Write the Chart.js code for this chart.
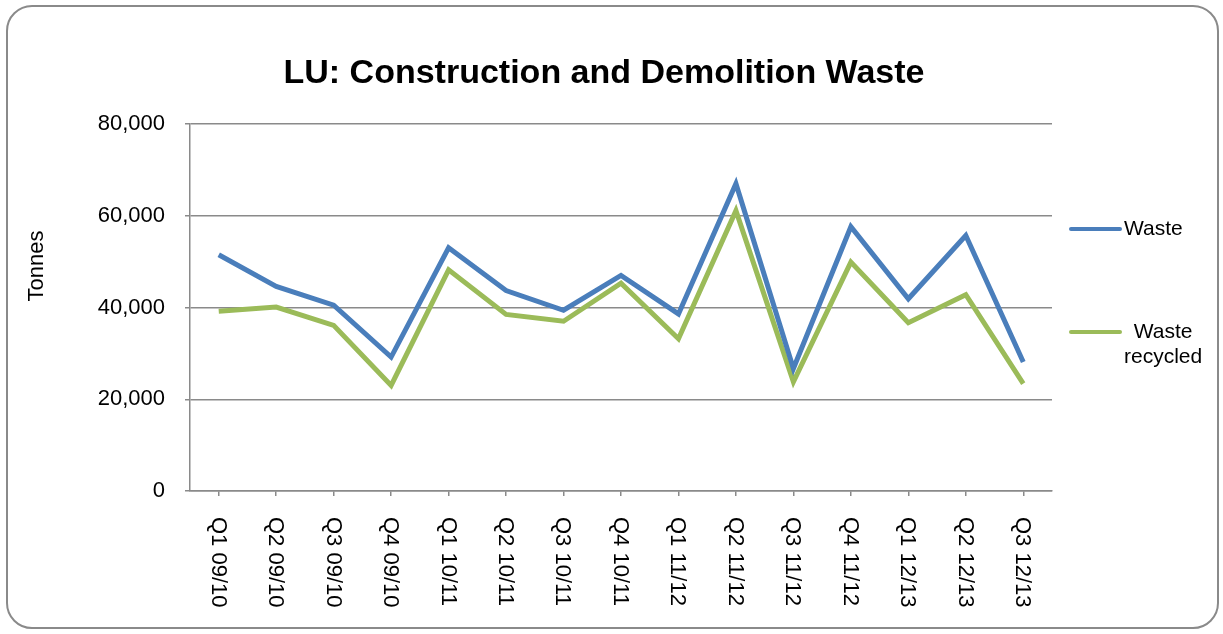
<!DOCTYPE html>
<html>
<head>
<meta charset="utf-8">
<script src="https://cdn.jsdelivr.net/npm/chart.js@4.4.1/dist/chart.umd.min.js"></script>
<style>
    body { margin: 0; background: #fff; }
    #wrap { position: relative; width: 1223px; height: 634px; }
    #frame {
        position: absolute; left: 6px; top: 5px; width: 1213px; height: 624px;
        border: 2px solid #8a8a8a; border-radius: 26px; box-sizing: border-box;
    }
    canvas { position: absolute; left: 0; top: 0; }
</style>
</head>
<body>
<div id="wrap">
    <div id="frame"></div>
    <canvas id="myChart" width="1223" height="634"></canvas>
</div>
<script>
const quarters = ['Q1 09/10', 'Q2 09/10', 'Q3 09/10', 'Q4 09/10',
    'Q1 10/11', 'Q2 10/11', 'Q3 10/11', 'Q4 10/11',
    'Q1 11/12', 'Q2 11/12', 'Q3 11/12', 'Q4 11/12',
    'Q1 12/13', 'Q2 12/13', 'Q3 12/13'];
const waste = [51500, 44600, 40500, 29200, 53000, 43700, 39400, 47000,
    38600, 67000, 26700, 57600, 41900, 55700, 28100];
const wasteRecycled = [39200, 40100, 36100, 23000, 48200, 38500, 37000, 45300,
    33200, 61100, 23800, 49900, 36700, 42800, 23400];
const yTicks = [0, 20000, 40000, 60000, 80000];

const chartTitle = 'LU: Construction and Demolition Waste';
const yTitle = 'Tonnes';
const font = '"Liberation Sans", Arial, sans-serif';

// title, rotated y title, clockwise x labels and the legend
const extras = {
    id: 'extras',
    afterDraw(chart) {
        const c = chart.ctx;
        const x = chart.scales.x;
        c.save();
        c.fillStyle = '#000';

        c.font = 'bold 34px ' + font;
        c.textAlign = 'center';
        c.textBaseline = 'alphabetic';
        c.fillText(chartTitle, 604, 83);

        c.save();
        c.font = '22px ' + font;
        c.translate(37, 266);
        c.rotate(-Math.PI / 2);
        c.textBaseline = 'middle';
        c.fillText(yTitle, 0, 0);
        c.restore();

        c.font = '22px ' + font;
        c.textAlign = 'left';
        c.textBaseline = 'middle';
        quarters.forEach((q, i) => {
            c.save();
            c.translate(x.getPixelForValue(i) - 1, 517);
            c.rotate(Math.PI / 2);
            c.fillText(q, 0, 0);
            c.restore();
        });

        const rows = [229, 332];
        c.font = '21px ' + font;
        chart.data.datasets.forEach((ds, i) => {
            const y = rows[i];
            c.strokeStyle = ds.borderColor;
            c.lineWidth = 4;
            c.lineCap = 'round';
            c.beginPath();
            c.moveTo(1071, y);
            c.lineTo(1120, y);
            c.stroke();
            // wrap into lines no wider than 90px
            const lines = [];
            ds.label.split(' ').forEach(w => {
                const last = lines[lines.length - 1];
                if (last && c.measureText(last + ' ' + w).width <= 90) lines[lines.length - 1] = last + ' ' + w;
                else lines.push(w);
            });
            const blockW = Math.max(...lines.map(l => c.measureText(l).width));
            c.textAlign = 'center';
            lines.forEach((l, j) => c.fillText(l, 1124 + blockW / 2, y + j * 25));
        });
        c.restore();
    }
};

const ctx = document.getElementById('myChart');

new Chart(ctx, {
    type: 'line',
    data: {
        labels: quarters,
        datasets: [{
            label: 'Waste',
            data: waste,
            borderColor: '#4a7ebb',
            borderWidth: 5,
            pointRadius: 0,
            tension: 0
        }, {
            label: 'Waste recycled',
            data: wasteRecycled,
            borderColor: '#9bbb59',
            borderWidth: 5,
            pointRadius: 0,
            tension: 0
        }]
    },
    options: {
        responsive: false,
        animation: false,
        layout: { padding: { left: 0, top: 124, right: 171, bottom: 0 } },
        plugins: {
            legend: { display: false },
            title: { display: false },
            tooltip: { enabled: false }
        },
        scales: {
            x: {
                offset: true,
                grid: {
                    offset: false,
                    drawOnChartArea: false,
                    color: '#8a8a8a',
                    lineWidth: 1.5,
                    tickLength: 5
                },
                border: { color: '#8a8a8a', width: 1.5 },
                ticks: { display: false },
                afterFit(scale) { scale.height = 143; }
            },
            y: {
                min: 0,
                max: 80000,
                afterBuildTicks(scale) { scale.ticks = yTicks.map(v => ({ value: v })); },
                grid: { color: '#8a8a8a', lineWidth: 1.5, tickLength: 5 },
                border: { color: '#8a8a8a', width: 1.5 },
                ticks: {
                    color: '#000',
                    padding: 20,
                    font: { family: font, size: 22 },
                    callback: v => v.toLocaleString('en-US')
                },
                afterFit(scale) { scale.width = 190; }
            }
        }
    },
    plugins: [extras]
});
</script>
</body>
</html>
